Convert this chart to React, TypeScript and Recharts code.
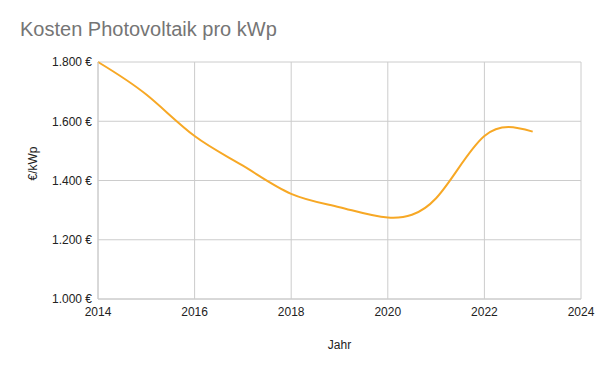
import { LineChart, Line, XAxis, YAxis, CartesianGrid } from 'recharts'

const years = [2014, 2015, 2016, 2017, 2018, 2019, 2020, 2021, 2022, 2023]
const costs = [1800, 1690, 1550, 1450, 1355, 1310, 1275, 1340, 1550, 1565]
const xTicks = [2014, 2016, 2018, 2020, 2022, 2024]
const yTicks = [1000, 1200, 1400, 1600, 1800]

const data = years.map((year, i) => ({ year, cost: costs[i] }))

// 1800 -> "1.800 €"
const euro = (v: number) => `${String(v).replace(/\B(?=(\d{3})+(?!\d))/g, '.')} €`

const font = '"Liberation Sans", Arial, sans-serif'
const tickStyle = { fontSize: 12, fill: '#222', fontFamily: font }

export default function App() {
  return (
    <div style={{ position: 'absolute', left: 0, top: 0, width: 600, height: 371, background: '#fff' }}>
      <div style={{
        position: 'absolute', left: 20, top: 18, fontSize: 20, color: '#757575',
        fontFamily: font, whiteSpace: 'nowrap',
      }}>
        Kosten Photovoltaik pro kWp
      </div>
      <LineChart width={600} height={371} data={data} margin={{ top: 62, right: 19, left: 0, bottom: 42 }}>
        <CartesianGrid stroke="#cccccc" />
        <XAxis
          dataKey="year" type="number" domain={[2014, 2024]} ticks={xTicks}
          tick={tickStyle} tickLine={false} stroke="#cccccc" height={30}
          label={{ value: 'Jahr', position: 'bottom', offset: 11, fontSize: 12, fill: '#222', fontFamily: font }}
        />
        <YAxis
          type="number" domain={[1000, 1800]} ticks={yTicks} tickFormatter={euro}
          tick={tickStyle} tickLine={false} tickSize={4} stroke="#cccccc" width={98}
          label={{ value: '€/kWp', angle: -90, position: 'insideLeft', offset: 33, fontSize: 12, fill: '#222', fontFamily: font }}
        />
        <Line
          dataKey="cost" type="natural" stroke="#f7a825" strokeWidth={2}
          dot={false} isAnimationActive={false}
        />
      </LineChart>
    </div>
  )
}
